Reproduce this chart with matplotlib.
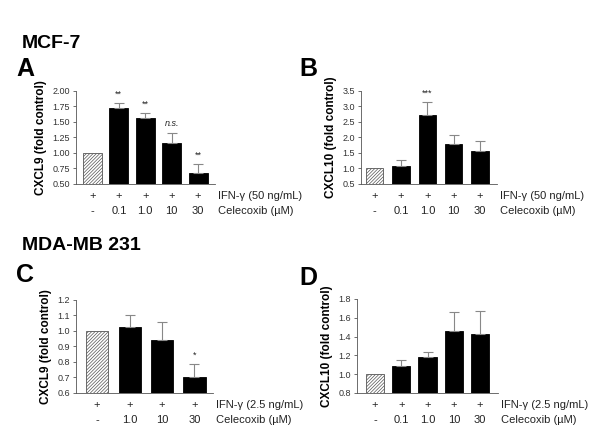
import numpy as np
import matplotlib.pyplot as plt

plt.rcParams['font.family'] = ['Liberation Sans', 'DejaVu Sans']
plt.rcParams['hatch.color'] = '#666666'
plt.rcParams['hatch.linewidth'] = 0.5

# panel A: MCF-7, CXCL9
a_vals = [1.00, 1.72, 1.57, 1.16, 0.68]
a_err = [0.0, 0.08, 0.08, 0.17, 0.14]
a_sig = ['', '**', '**', 'n.s.', '**']
a_dose = ['-', '0.1', '1.0', '10', '30']

# panel B: MCF-7, CXCL10
b_vals = [1.00, 1.08, 2.71, 1.80, 1.55]
b_err = [0.0, 0.20, 0.43, 0.28, 0.34]
b_sig = ['', '', '***', '', '']
b_dose = ['-', '0.1', '1.0', '10', '30']

# panel C: MDA-MB 231, CXCL9
c_vals = [1.00, 1.025, 0.94, 0.70]
c_err = [0.0, 0.075, 0.115, 0.09]
c_sig = ['', '', '', '*']
c_dose = ['-', '1.0', '10', '30']

# panel D: MDA-MB 231, CXCL10
d_vals = [1.00, 1.09, 1.18, 1.455, 1.43]
d_err = [0.0, 0.06, 0.055, 0.205, 0.245]
d_sig = ['', '', '', '', '']
d_dose = ['-', '0.1', '1.0', '10', '30']


def bar_panel(ax, vals, err, sig, dose, ylim, yticks, fmt, ylabel, ifn, width, xlim):
    x = np.arange(len(vals))
    colors = ['white'] + ['black'] * (len(vals) - 1)
    bars = ax.bar(x, vals, width=width, color=colors, edgecolor=['#555555'] + ['black'] * (len(vals) - 1),
                  linewidth=0.6, bottom=0)
    bars[0].set_hatch('//////////')
    ax.errorbar(x[1:], vals[1:], yerr=[np.zeros(len(vals) - 1), err[1:]], fmt='none',
                ecolor='#888888', elinewidth=0.8, capsize=3.5, capthick=0.8)
    for xi, v, e, s in zip(x, vals, err, sig):
        if s:
            st = 'italic' if s == 'n.s.' else 'normal'
            ax.annotate(s, xy=(xi, v + e), xytext=(0, 3), textcoords='offset points',
                        ha='center', va='bottom', fontsize=6.5, style=st, color='#222222')
    ax.set_ylim(*ylim)
    ax.set_xlim(*xlim)
    ax.set_yticks(yticks)
    ax.set_yticklabels([fmt.format(t) for t in yticks], fontsize=6.5, color='#333333')
    ax.set_xticks([])
    for side in ['top', 'right']:
        ax.spines[side].set_visible(False)
    for side in ['left', 'bottom']:
        ax.spines[side].set_color('#555555')
        ax.spines[side].set_linewidth(0.6)
    ax.tick_params(axis='y', length=2.5, width=0.6, color='#555555', pad=2)
    ax.set_ylabel(ylabel, fontsize=8.5, fontweight='bold', labelpad=4)
    for xi, d in zip(x, dose):
        ax.annotate('+', xy=(xi, 0), xycoords=('data', 'axes fraction'), xytext=(0, -9),
                    textcoords='offset points', ha='center', va='center', fontsize=8, color='#222222')
        ax.annotate(d, xy=(xi, 0), xycoords=('data', 'axes fraction'), xytext=(0, -19.5),
                    textcoords='offset points', ha='center', va='center', fontsize=8, color='#222222')
    ax.annotate(ifn, xy=(1, 0), xycoords='axes fraction', xytext=(2, -9),
                textcoords='offset points', ha='left', va='center', fontsize=8, color='#222222')
    ax.annotate('Celecoxib (\u00b5M)', xy=(1, 0), xycoords='axes fraction', xytext=(2, -19.5),
                textcoords='offset points', ha='left', va='center', fontsize=8, color='#222222')


fig = plt.figure(figsize=(6, 4.32), dpi=100)

axA = fig.add_axes([0.1267, 0.5741, 0.2317, 0.2153])
bar_panel(axA, a_vals, a_err, a_sig, a_dose, (0.5, 2.0), [0.5, 0.75, 1.0, 1.25, 1.5, 1.75, 2.0],
          '{:.2f}', 'CXCL9 (fold control)', 'IFN-\u03b3 (50 ng/mL)', 0.72, (-0.62, 4.64))

axB = fig.add_axes([0.6017, 0.5741, 0.2267, 0.2153])
bar_panel(axB, b_vals, b_err, b_sig, b_dose, (0.5, 3.5), [0.5, 1.0, 1.5, 2.0, 2.5, 3.0, 3.5],
          '{:.1f}', 'CXCL10 (fold control)', 'IFN-\u03b3 (50 ng/mL)', 0.66, (-0.51, 4.64))

axC = fig.add_axes([0.1267, 0.0903, 0.2283, 0.2153])
bar_panel(axC, c_vals, c_err, c_sig, c_dose, (0.6, 1.2), [0.6, 0.7, 0.8, 0.9, 1.0, 1.1, 1.2],
          '{:.1f}', 'CXCL9 (fold control)', 'IFN-\u03b3 (2.5 ng/mL)', 0.68, (-0.65, 3.57))

axD = fig.add_axes([0.595, 0.0903, 0.235, 0.2176])
bar_panel(axD, d_vals, d_err, d_sig, d_dose, (0.8, 1.8), [0.8, 1.0, 1.2, 1.4, 1.6, 1.8],
          '{:.1f}', 'CXCL10 (fold control)', 'IFN-\u03b3 (2.5 ng/mL)', 0.70, (-0.68, 4.68))

fig.text(22 / 600, 1 - 43 / 432, 'MCF-7', fontsize=14, fontweight='bold', va='center', ha='left')
fig.text(22 / 600, 1 - 245 / 432, 'MDA-MB 231', fontsize=14, fontweight='bold', va='center', ha='left')
fig.text(16 / 600, 1 - 69 / 432, 'A', fontsize=18, fontweight='bold', va='center', ha='left')
fig.text(299 / 600, 1 - 69 / 432, 'B', fontsize=18, fontweight='bold', va='center', ha='left')
fig.text(16 / 600, 1 - 275 / 432, 'C', fontsize=18, fontweight='bold', va='center', ha='left')
fig.text(299 / 600, 1 - 278 / 432, 'D', fontsize=18, fontweight='bold', va='center', ha='left')

fig.savefig('out.png', dpi=100)
